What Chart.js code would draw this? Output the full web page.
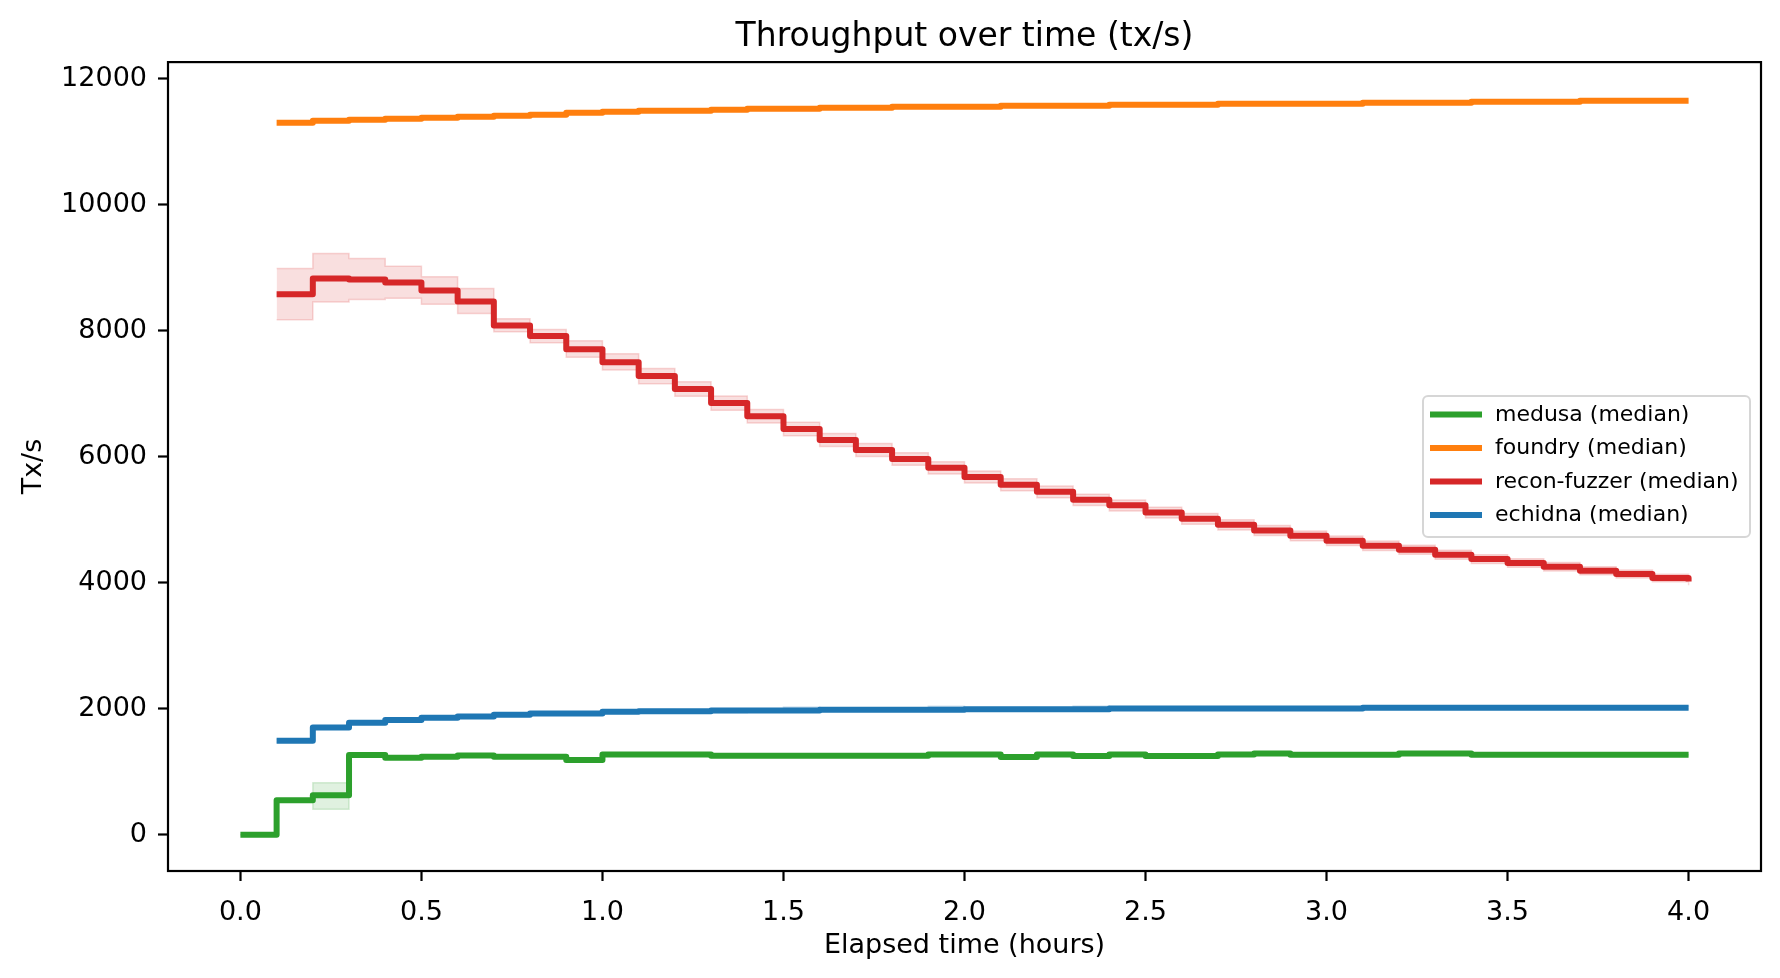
<!DOCTYPE html>
<html>
<head>
<meta charset="utf-8">
<title>Throughput over time (tx/s)</title>
<script src="https://cdn.jsdelivr.net/npm/chart.js@4.4.1/dist/chart.umd.min.js"></script>
<style>
  html, body { margin: 0; padding: 0; background: #fff; }
  #chart { display: block; }
</style>
</head>
<body>
<canvas id="chart" width="1780" height="978"></canvas>
<script>
/* Throughput over time — step lines (median) with min/max bands */

const FONT = "'DejaVu Sans', 'Liberation Sans', sans-serif";

/* --- data --- */
const timeHours = [0.0, 0.1, 0.2, 0.3, 0.4, 0.5, 0.6, 0.7, 0.8, 0.9, 1.0,
  1.1, 1.2, 1.3, 1.4, 1.5, 1.6, 1.7, 1.8, 1.9, 2.0,
  2.1, 2.2, 2.3, 2.4, 2.5, 2.6, 2.7, 2.8, 2.9, 3.0,
  3.1, 3.2, 3.3, 3.4, 3.5, 3.6, 3.7, 3.8, 3.9, 4.0];

const xTicks = [0.0, 0.5, 1.0, 1.5, 2.0, 2.5, 3.0, 3.5, 4.0];
const yTicks = [0, 2000, 4000, 6000, 8000, 10000, 12000];

// medusa starts at 0.0, the other fuzzers at 0.1
const medusaMedian = [0, 547, 626, 1265, 1223, 1239, 1260, 1239, 1239, 1186, 1276,
  1276, 1276, 1255, 1255, 1255, 1255, 1255, 1255, 1276, 1276,
  1233, 1276, 1249, 1276, 1249, 1249, 1276, 1292, 1270, 1270,
  1270, 1292, 1292, 1270, 1270, 1270, 1270, 1270, 1270, 1270];
const medusaLow = [0, 547, 404, 1265, 1223, 1239, 1260, 1239, 1239, 1186, 1276,
  1276, 1276, 1255, 1255, 1255, 1255, 1255, 1255, 1276, 1276,
  1233, 1276, 1249, 1276, 1249, 1249, 1276, 1292, 1270, 1270,
  1270, 1292, 1292, 1270, 1270, 1270, 1270, 1270, 1270, 1270];
const medusaHigh = [0, 547, 827, 1265, 1223, 1239, 1260, 1239, 1239, 1186, 1276,
  1276, 1276, 1255, 1255, 1255, 1255, 1255, 1255, 1276, 1276,
  1233, 1276, 1249, 1276, 1249, 1249, 1276, 1292, 1270, 1270,
  1270, 1292, 1292, 1270, 1270, 1270, 1270, 1270, 1270, 1270];

const foundryMedian = [11303, 11334, 11350, 11366, 11382, 11398, 11413, 11429, 11461, 11477,
  11493, 11493, 11509, 11524, 11524, 11540, 11540, 11556, 11556, 11556,
  11572, 11572, 11572, 11588, 11588, 11588, 11603, 11603, 11603, 11603,
  11619, 11619, 11619, 11635, 11635, 11635, 11651, 11651, 11651, 11651];

const reconMedian = [8580, 8830, 8815, 8767, 8640, 8466, 8085, 7916, 7708, 7499,
  7282, 7076, 6854, 6643, 6442, 6268, 6109, 5966, 5824, 5681,
  5555, 5444, 5317, 5230, 5116, 5016, 4921, 4831, 4746, 4667,
  4588, 4525, 4445, 4377, 4314, 4255, 4192, 4139, 4076, 4022];
const reconLow = [8174, 8455, 8497, 8518, 8423, 8276, 7984, 7810, 7578, 7377,
  7160, 6960, 6740, 6535, 6335, 6165, 6005, 5865, 5725, 5585,
  5460, 5350, 5225, 5140, 5028, 4930, 4838, 4750, 4667, 4590,
  4513, 4452, 4373, 4308, 4246, 4189, 4128, 4077, 4015, 3962];
const reconHigh = [8989, 9226, 9147, 9025, 8856, 8672, 8190, 8022, 7841, 7636,
  7400, 7190, 6965, 6750, 6550, 6370, 6210, 6065, 5920, 5775,
  5650, 5535, 5405, 5315, 5200, 5100, 5002, 4910, 4823, 4742,
  4662, 4597, 4515, 4446, 4381, 4320, 4256, 4201, 4137, 4082];

const echidnaMedian = [1492, 1704, 1778, 1820, 1857, 1878, 1905, 1925, 1925, 1952,
  1962, 1962, 1973, 1973, 1973, 1984, 1984, 1984, 1984, 1994,
  1994, 1994, 1994, 2005, 2005, 2005, 2005, 2005, 2005, 2005,
  2015, 2015, 2015, 2015, 2015, 2015, 2015, 2015, 2015, 2015];
const echidnaLow = [1470, 1685, 1760, 1800, 1835, 1858, 1885, 1903, 1905, 1930,
  1940, 1942, 1935, 1950, 1952, 1962, 1964, 1960, 1966, 1972,
  1975, 1970, 1974, 1982, 1985, 1983, 1986, 1984, 1987, 1985,
  1992, 1995, 1993, 1996, 1994, 1995, 1993, 1996, 1995, 1995];
const echidnaHigh = [1512, 1725, 1798, 1842, 1880, 1905, 1930, 1948, 1950, 1975,
  1990, 1985, 1995, 1998, 2030, 2006, 2008, 2005, 2040, 2016,
  2020, 2018, 2045, 2027, 2030, 2028, 2031, 2029, 2032, 2030,
  2037, 2040, 2038, 2041, 2039, 2040, 2038, 2041, 2040, 2038];

/* colours (matplotlib tab10) */
const COLORS = {
  medusa: "#2ca02c",
  foundry: "#ff7f0e",
  recon: "#d62728",
  echidna: "#1f77b4"
};

const LINE_W = 6;

function hexToRgba(hex, alpha) {
  const n = parseInt(hex.replace("#", ""), 16);
  return `rgba(${(n >> 16) & 255}, ${(n >> 8) & 255}, ${n & 255}, ${alpha})`;
}

function pts(times, values) {
  return values.map((v, i) => ({x: times[i], y: v}));
}

const t40 = timeHours.slice(1);

function medianLine(label, data, color) {
  return {
    label, data, borderColor: color, backgroundColor: color,
    borderWidth: LINE_W, stepped: true, pointRadius: 0, fill: false,
    borderJoinStyle: "round", borderCapStyle: "butt"
  };
}

function bandPair(data_hi, data_lo, color) {
  const edge = hexToRgba(color, 0.18);
  const common = {borderColor: edge, borderWidth: 1.5, stepped: true, pointRadius: 0};
  return [
    Object.assign({label: "_hi", data: data_hi, fill: "+1", backgroundColor: hexToRgba(color, 0.15)}, common),
    Object.assign({label: "_lo", data: data_lo, fill: false, backgroundColor: "transparent"}, common)
  ];
}

/* legend entries in the reference order */
const legendItems = [
  {label: "medusa (median)", color: COLORS.medusa},
  {label: "foundry (median)", color: COLORS.foundry},
  {label: "recon-fuzzer (median)", color: COLORS.recon},
  {label: "echidna (median)", color: COLORS.echidna}
];

/* frame (all four spines) + matplotlib-like legend box */
const framePlugin = {
  id: "frameAndLegend",
  afterDraw(chart) {
    const {ctx, chartArea: a} = chart;
    ctx.save();
    ctx.strokeStyle = "#000";
    ctx.lineWidth = 2.2;
    ctx.strokeRect(a.left, a.top, a.right - a.left, a.bottom - a.top);

    // legend, "center right"
    const boxW = 327, boxH = 141;
    const bx = a.right - 11 - boxW;
    const by = (a.top + a.bottom) / 2 - boxH / 2;
    ctx.beginPath();
    ctx.roundRect(bx, by, boxW, boxH, 5);
    ctx.fillStyle = "rgba(255,255,255,0.8)";
    ctx.fill();
    ctx.strokeStyle = "rgba(204,204,204,0.8)";
    ctx.lineWidth = 2;
    ctx.stroke();

    ctx.font = `22px ${FONT}`;
    ctx.textBaseline = "middle";
    ctx.textAlign = "left";
    legendItems.forEach((it, i) => {
      const y = by + 18.5 + i * 33.5;
      ctx.strokeStyle = it.color;
      ctx.lineWidth = LINE_W;
      ctx.beginPath();
      ctx.moveTo(bx + 7, y);
      ctx.lineTo(bx + 59, y);
      ctx.stroke();
      ctx.fillStyle = "#000";
      ctx.fillText(it.label, bx + 72, y + 0.5);
    });
    ctx.restore();
  }
};

const tickGrid = {
  display: true, drawOnChartArea: false, drawTicks: true,
  tickLength: 10, tickWidth: 2.2, tickColor: "#000"
};

new Chart(document.getElementById("chart"), {
  type: "line",
  data: {
    datasets: [
      medianLine("medusa (median)", pts(timeHours, medusaMedian), COLORS.medusa),
      medianLine("foundry (median)", pts(t40, foundryMedian), COLORS.foundry),
      medianLine("recon-fuzzer (median)", pts(t40, reconMedian), COLORS.recon),
      medianLine("echidna (median)", pts(t40, echidnaMedian), COLORS.echidna),
      ...bandPair(pts(timeHours, medusaHigh), pts(timeHours, medusaLow), COLORS.medusa),
      ...bandPair(pts(t40, reconHigh), pts(t40, reconLow), COLORS.recon),
      ...bandPair(pts(t40, echidnaHigh), pts(t40, echidnaLow), COLORS.echidna)
    ]
  },
  options: {
    responsive: false,
    animation: false,
    devicePixelRatio: 1,
    layout: {padding: {left: 0, right: 19, top: 0, bottom: 0}},
    plugins: {
      legend: {display: false},
      tooltip: {enabled: false},
      title: {
        display: true, text: "Throughput over time (tx/s)", fullSize: false,
        color: "#000", font: {family: FONT, size: 33, weight: "normal", lineHeight: 1.2},
        padding: {top: 17.5, bottom: 5}
      }
    },
    scales: {
      x: {
        type: "linear", min: -0.2, max: 4.2,
        afterBuildTicks: s => { s.ticks = xTicks.map(v => ({value: v})); },
        afterFit: s => { s.height = 107; },
        grid: tickGrid,
        border: {display: false},
        ticks: {
          color: "#000", font: {family: FONT, size: 27}, padding: 16,
          maxRotation: 0, autoSkip: false, callback: v => v.toFixed(1)
        },
        title: {
          display: true, text: "Elapsed time (hours)", color: "#000",
          font: {family: FONT, size: 27, lineHeight: 1.2}, padding: {top: 0, bottom: 15.5}
        }
      },
      y: {
        type: "linear", min: -575, max: 12265,
        afterBuildTicks: s => { s.ticks = yTicks.map(v => ({value: v})); },
        afterFit: s => { s.width = 168; },
        grid: tickGrid,
        border: {display: false},
        ticks: {color: "#000", font: {family: FONT, size: 27}, padding: 11, callback: v => String(v)},
        title: {
          display: true, text: "Tx/s", color: "#000",
          font: {family: FONT, size: 27, lineHeight: 1.2}, padding: {top: 18, bottom: 0}
        }
      }
    }
  },
  plugins: [framePlugin]
});
</script>
</body>
</html>
